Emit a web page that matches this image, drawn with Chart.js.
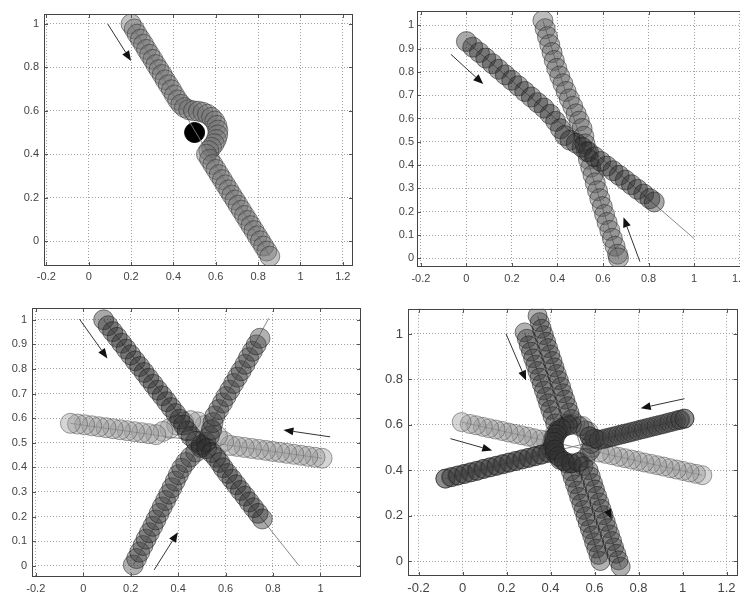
<!DOCTYPE html>
<html>
<head>
<meta charset="utf-8">
<script src="https://cdn.jsdelivr.net/npm/chart.js@4.4.1/dist/chart.umd.min.js"></script>
<style>
  html, body { margin: 0; padding: 0; background: #fff; }
  #wrap { position: relative; width: 740px; height: 596px; overflow: hidden; background: #fff; }
  canvas { position: absolute; }
</style>
</head>
<body>
<div id="wrap">
  <canvas id="c1" width="364" height="290" style="left:0;top:0"></canvas>
  <canvas id="c2" width="390" height="291" style="left:372px;top:0"></canvas>
  <canvas id="c3" width="372" height="305" style="left:0;top:296px"></canvas>
  <canvas id="c4" width="376" height="304" style="left:372px;top:296px"></canvas>
</div>
<script>
// ---------- tick values ----------
const p1XTicks = [-0.2, 0, 0.2, 0.4, 0.6, 0.8, 1, 1.2];
const p1YTicks = [0, 0.2, 0.4, 0.6, 0.8, 1];
const p2XTicks = [-0.2, 0, 0.2, 0.4, 0.6, 0.8, 1, 1.2];
const p2YTicks = [0, 0.1, 0.2, 0.3, 0.4, 0.5, 0.6, 0.7, 0.8, 0.9, 1];
const p3XTicks = [-0.2, 0, 0.2, 0.4, 0.6, 0.8, 1];
const p3YTicks = [0, 0.1, 0.2, 0.3, 0.4, 0.5, 0.6, 0.7, 0.8, 0.9, 1];
const p4XTicks = [-0.2, 0, 0.2, 0.4, 0.6, 0.8, 1, 1.2];
const p4YTicks = [0, 0.2, 0.4, 0.6, 0.8, 1];

// ---------- panel 1: one agent around a fixed obstacle ----------
const p1Agent = [
  [0.200,1.000],[0.215,0.977],[0.229,0.953],[0.244,0.930],[0.259,0.907],[0.273,0.883],[0.288,0.860],[0.303,0.837],
  [0.317,0.813],[0.332,0.790],[0.347,0.767],[0.361,0.743],[0.376,0.720],[0.391,0.697],[0.405,0.673],[0.420,0.650],
  [0.435,0.630],[0.452,0.615],[0.472,0.605],[0.495,0.600],[0.518,0.598],[0.540,0.593],[0.561,0.584],[0.580,0.570],
  [0.595,0.553],[0.605,0.533],[0.610,0.511],[0.609,0.489],[0.603,0.468],[0.593,0.449],[0.580,0.432],[0.567,0.417],
  [0.556,0.400],[0.571,0.377],[0.586,0.353],[0.601,0.330],[0.616,0.306],[0.631,0.283],[0.646,0.259],[0.661,0.236],
  [0.676,0.212],[0.691,0.189],[0.706,0.165],[0.721,0.142],[0.736,0.118],[0.751,0.095],[0.766,0.071],[0.781,0.048],
  [0.796,0.024],[0.811,0.001],[0.826,-0.023],[0.841,-0.046],[0.855,-0.070]
];
const p1Obstacle = [[0.5, 0.5]];
const p1Guides = [[[0.2, 1.0], [0.855, -0.07]]];
const p1Arrows = [[0.09, 1.0, 0.2, 0.83]];

// ---------- panel 2: two crossing agents ----------
const p2AgentA = [
  [0.000,0.930],[0.028,0.906],[0.057,0.883],[0.085,0.859],[0.114,0.835],[0.142,0.811],[0.171,0.787],[0.199,0.764],
  [0.228,0.740],[0.256,0.716],[0.285,0.692],[0.313,0.668],[0.341,0.645],[0.368,0.618],[0.392,0.588],[0.413,0.556],
  [0.432,0.527],[0.455,0.507],[0.482,0.494],[0.508,0.477],[0.536,0.457],[0.563,0.436],[0.590,0.416],[0.617,0.396],
  [0.644,0.376],[0.671,0.356],[0.698,0.336],[0.725,0.316],[0.752,0.296],[0.779,0.276],[0.806,0.256],[0.825,0.242]
];
const p2AgentB = [
  [0.336,1.020],[0.346,0.985],[0.356,0.951],[0.366,0.917],[0.376,0.883],[0.386,0.849],[0.397,0.815],[0.410,0.782],
  [0.424,0.749],[0.438,0.716],[0.452,0.684],[0.467,0.652],[0.482,0.620],[0.496,0.589],[0.508,0.557],[0.516,0.524],
  [0.521,0.491],[0.527,0.458],[0.536,0.425],[0.546,0.391],[0.556,0.358],[0.566,0.324],[0.576,0.290],[0.586,0.256],
  [0.597,0.222],[0.607,0.188],[0.618,0.154],[0.630,0.120],[0.641,0.086],[0.653,0.052],[0.664,0.018],[0.668,0.002]
];
const p2Guides = [[[0.0, 0.93], [1.0, 0.085]], [[0.336, 1.02], [0.668, 0.0]]];
const p2Arrows = [[-0.068, 0.875, 0.074, 0.748], [0.762, -0.014, 0.69, 0.176]];

// ---------- panel 3: three agents ----------
const p3AgentA = [
  [0.086,1.000],[0.105,0.976],[0.124,0.952],[0.143,0.929],[0.162,0.905],[0.181,0.881],[0.200,0.857],[0.219,0.833],
  [0.238,0.810],[0.257,0.786],[0.276,0.762],[0.295,0.738],[0.314,0.714],[0.333,0.691],[0.352,0.667],[0.371,0.643],
  [0.390,0.619],[0.407,0.596],[0.423,0.572],[0.438,0.548],[0.455,0.526],[0.475,0.506],[0.497,0.490],[0.520,0.476],
  [0.541,0.460],[0.559,0.441],[0.575,0.420],[0.590,0.398],[0.608,0.375],[0.627,0.352],[0.645,0.329],[0.663,0.306],
  [0.682,0.283],[0.700,0.259],[0.718,0.236],[0.737,0.213],[0.755,0.190]
];
const p3AgentB = [
  [0.211,0.003],[0.225,0.029],[0.238,0.055],[0.252,0.082],[0.265,0.108],[0.279,0.134],[0.293,0.160],[0.306,0.186],
  [0.320,0.213],[0.333,0.239],[0.347,0.265],[0.361,0.291],[0.374,0.317],[0.388,0.344],[0.401,0.370],[0.415,0.396],
  [0.432,0.420],[0.452,0.442],[0.474,0.462],[0.497,0.481],[0.517,0.502],[0.532,0.527],[0.541,0.554],[0.547,0.582],
  [0.555,0.609],[0.571,0.635],[0.587,0.662],[0.602,0.688],[0.618,0.714],[0.634,0.741],[0.650,0.767],[0.666,0.793],
  [0.682,0.819],[0.697,0.846],[0.713,0.872],[0.729,0.898],[0.745,0.925]
];
const p3AgentC = [
  [1.007,0.437],[0.977,0.441],[0.947,0.445],[0.918,0.449],[0.888,0.453],[0.858,0.457],[0.828,0.461],[0.798,0.465],
  [0.769,0.469],[0.739,0.473],[0.709,0.477],[0.679,0.481],[0.649,0.485],[0.620,0.489],[0.592,0.505],[0.566,0.527],
  [0.540,0.550],[0.512,0.570],[0.483,0.585],[0.453,0.590],[0.423,0.584],[0.394,0.572],[0.365,0.558],[0.336,0.546],
  [0.306,0.533],[0.276,0.537],[0.246,0.541],[0.216,0.545],[0.186,0.549],[0.156,0.553],[0.126,0.557],[0.096,0.561],
  [0.066,0.565],[0.036,0.569],[0.006,0.573],[-0.024,0.576],[-0.054,0.579]
];
const p3Guides = [[[0.086, 1.0], [0.91, 0.0]], [[0.211, 0.003], [0.782, 1.006]], [[1.007, 0.437], [-0.054, 0.579]]];
const p3Arrows = [[-0.016, 1.003, 0.102, 0.843], [0.299, -0.017, 0.399, 0.136], [1.041, 0.524, 0.844, 0.552]];

// ---------- panel 4: five agents meeting in the middle ----------
const p4AgentV1 = [
  [0.341,1.080],[0.351,1.052],[0.360,1.023],[0.370,0.995],[0.380,0.966],[0.389,0.938],[0.399,0.910],[0.409,0.881],
  [0.418,0.853],[0.428,0.824],[0.438,0.796],[0.448,0.768],[0.457,0.739],[0.467,0.711],[0.477,0.682],[0.486,0.654],
  [0.496,0.626],[0.480,0.597],[0.449,0.583],[0.427,0.558],[0.416,0.525],[0.419,0.491],[0.434,0.462],[0.460,0.440],
  [0.492,0.430],[0.526,0.435],[0.550,0.418],[0.573,0.400],[0.583,0.372],[0.593,0.343],[0.602,0.315],[0.612,0.287],
  [0.622,0.258],[0.631,0.230],[0.641,0.202],[0.651,0.173],[0.660,0.145],[0.670,0.117],[0.680,0.088],[0.689,0.060],
  [0.699,0.032],[0.709,0.003],[0.719,-0.025]
];
const p4AgentV2 = [
  [0.282,1.007],[0.292,0.979],[0.301,0.950],[0.311,0.922],[0.321,0.893],[0.331,0.865],[0.340,0.837],[0.350,0.808],
  [0.360,0.780],[0.370,0.751],[0.380,0.723],[0.389,0.695],[0.399,0.666],[0.409,0.638],[0.421,0.607],[0.433,0.575],
  [0.415,0.544],[0.410,0.509],[0.420,0.474],[0.442,0.446],[0.474,0.429],[0.492,0.395],[0.501,0.367],[0.511,0.338],
  [0.521,0.310],[0.530,0.282],[0.540,0.253],[0.550,0.225],[0.559,0.197],[0.569,0.168],[0.579,0.140],[0.589,0.112],
  [0.598,0.083],[0.608,0.055],[0.618,0.027],[0.627,0.000]
];
const p4AgentH1 = [
  [-0.078,0.363],[-0.049,0.370],[-0.020,0.377],[0.010,0.384],[0.039,0.391],[0.068,0.398],[0.097,0.406],[0.127,0.413],
  [0.156,0.420],[0.185,0.427],[0.214,0.434],[0.243,0.441],[0.273,0.448],[0.302,0.455],[0.331,0.462],[0.360,0.469],
  [0.390,0.478],[0.420,0.486],[0.439,0.457],[0.465,0.438],[0.499,0.430],[0.532,0.437],[0.560,0.455],[0.578,0.483],
  [0.585,0.516],[0.577,0.550],[0.599,0.540],[0.620,0.533],[0.649,0.540],[0.678,0.547],[0.707,0.554],[0.736,0.561],
  [0.766,0.568],[0.795,0.575],[0.824,0.582],[0.853,0.589],[0.882,0.596],[0.912,0.603],[0.941,0.611],[0.970,0.618],
  [0.990,0.623],[1.009,0.627]
];
const p4AgentH2 = [
  [1.009,0.627],[0.985,0.621],[0.956,0.614],[0.927,0.607],[0.897,0.600],[0.868,0.593],[0.839,0.586],[0.810,0.579],
  [0.780,0.571],[0.751,0.564],[0.722,0.557],[0.693,0.550],[0.664,0.543],[0.635,0.536],[0.606,0.538],[0.578,0.548],
  [0.559,0.576],[0.531,0.594],[0.497,0.600],[0.464,0.592],[0.437,0.572],[0.420,0.542],[0.415,0.509],[0.400,0.491],
  [0.385,0.475],[0.355,0.468],[0.326,0.461],[0.297,0.454],[0.268,0.447],[0.239,0.440],[0.209,0.433],[0.180,0.426],
  [0.151,0.419],[0.122,0.412],[0.093,0.405],[0.063,0.397],[0.034,0.390],[0.005,0.383],[-0.024,0.376],[-0.053,0.369],
  [-0.078,0.363]
];
const p4AgentL = [
  [1.090,0.378],[1.061,0.384],[1.032,0.390],[1.002,0.397],[0.973,0.403],[0.944,0.409],[0.914,0.416],[0.885,0.422],
  [0.856,0.428],[0.826,0.434],[0.797,0.441],[0.768,0.447],[0.738,0.453],[0.709,0.459],[0.680,0.466],[0.650,0.472],
  [0.621,0.478],[0.589,0.499],[0.588,0.536],[0.573,0.570],[0.546,0.595],[0.512,0.607],[0.476,0.605],[0.443,0.589],
  [0.419,0.561],[0.407,0.526],[0.380,0.530],[0.356,0.535],[0.326,0.541],[0.297,0.548],[0.268,0.554],[0.238,0.560],
  [0.209,0.566],[0.180,0.573],[0.150,0.579],[0.121,0.585],[0.092,0.591],[0.062,0.598],[0.033,0.604],[-0.004,0.612]
];
const p4Guides = [[[0.341, 1.08], [0.719, -0.025]], [[0.282, 1.007], [0.627, 0.0]],
                  [[-0.078, 0.363], [1.009, 0.627]], [[1.09, 0.378], [-0.004, 0.612]]];
const p4Arrows = [[0.198, 1.0, 0.289, 0.795], [-0.055, 0.539, 0.135, 0.487],
                  [1.009, 0.715, 0.81, 0.673], [0.655, 0.235, 0.678, 0.184]];

// ---------- drawing helpers ----------
const toXY = pts => pts.map(([x, y]) => ({ x, y }));

function circles(pts, fill, edge, r) {
  return { data: toXY(pts), showLine: false, pointRadius: r, pointHoverRadius: r,
           backgroundColor: fill, borderColor: edge, pointBorderWidth: 1, order: 1 };
}
function guide(seg) {
  return { data: toXY(seg), showLine: true, pointRadius: 0, borderColor: 'rgba(125,125,125,0.9)',
           borderWidth: 1, fill: false, order: 2 };
}
function obstacle(pts, r) {
  return { data: toXY(pts), showLine: false, pointRadius: r, backgroundColor: '#000',
           borderColor: '#000', pointBorderWidth: 1, order: 3 };
}

function drawArrow(ctx, x0, y0, x1, y1) {
  const a = Math.atan2(y1 - y0, x1 - x0), L = 10, W = 4;
  const bx = x1 - L * Math.cos(a), by = y1 - L * Math.sin(a);
  ctx.beginPath(); ctx.moveTo(x0, y0); ctx.lineTo(bx, by); ctx.stroke();
  ctx.beginPath();
  ctx.moveTo(x1, y1);
  ctx.lineTo(bx + W * Math.sin(a), by - W * Math.cos(a));
  ctx.lineTo(bx - W * Math.sin(a), by + W * Math.cos(a));
  ctx.closePath(); ctx.fill();
}

// box frame, inward tick marks and direction arrows
const framePlugin = {
  id: 'frame',
  afterDatasetsDraw(chart, args, opts) {
    const { ctx, chartArea: a, scales: { x, y } } = chart;
    ctx.save();
    ctx.strokeStyle = '#333'; ctx.fillStyle = '#111'; ctx.lineWidth = 1;
    (opts.arrows || []).forEach(([x0, y0, x1, y1]) =>
      drawArrow(ctx, x.getPixelForValue(x0), y.getPixelForValue(y0), x.getPixelForValue(x1), y.getPixelForValue(y1)));
    ctx.strokeStyle = '#555';
    ctx.beginPath();
    x.ticks.forEach(t => {
      const px = Math.round(x.getPixelForValue(t.value)) + 0.5;
      ctx.moveTo(px, a.bottom); ctx.lineTo(px, a.bottom - 4);
      ctx.moveTo(px, a.top); ctx.lineTo(px, a.top + 4);
    });
    y.ticks.forEach(t => {
      const py = Math.round(y.getPixelForValue(t.value)) + 0.5;
      ctx.moveTo(a.left, py); ctx.lineTo(a.left + 4, py);
      ctx.moveTo(a.right, py); ctx.lineTo(a.right - 4, py);
    });
    ctx.stroke();
    ctx.strokeStyle = '#444';
    ctx.strokeRect(Math.round(a.left) + 0.5, Math.round(a.top) + 0.5,
                   Math.round(a.right - a.left) - 1, Math.round(a.bottom - a.top) - 1);
    ctx.restore();
  }
};

function panel(id, cfg) {
  const font = { family: '"Liberation Sans", Arial, sans-serif', size: cfg.fontSize };
  const axis = (ticks, range, fitKey, fitVal, pad) => ({
    type: 'linear', min: range[0], max: range[1],
    afterBuildTicks: s => { s.ticks = ticks.map(v => ({ value: v })); },
    afterFit: s => { s[fitKey] = fitVal; },
    ticks: { font, color: '#444', padding: pad, autoSkip: false, maxRotation: 0, callback: v => String(v) },
    grid: { color: 'rgba(150,150,150,0.9)', lineWidth: 1, drawTicks: false },
    border: { display: false, dash: [1, 2] }
  });
  new Chart(document.getElementById(id), {
    type: 'scatter',
    data: { datasets: cfg.datasets },
    options: {
      responsive: false, animation: false, devicePixelRatio: 1,
      layout: { padding: cfg.pad },
      events: [],
      plugins: { legend: { display: false }, tooltip: { enabled: false }, frame: { arrows: cfg.arrows } },
      scales: {
        x: axis(cfg.xTicks, cfg.xRange, 'height', cfg.xH, cfg.xPad),
        y: axis(cfg.yTicks, cfg.yRange, 'width', cfg.yW, cfg.yPad)
      }
    },
    plugins: [framePlugin]
  });
}

// ---------- the four panels ----------
panel('c1', {
  xTicks: p1XTicks, yTicks: p1YTicks, xRange: [-0.211, 1.248], yRange: [-0.115, 1.046],
  pad: { left: 0, top: 14, right: 2, bottom: 0 }, yW: 44, xH: 24, xPad: 4, yPad: 5, fontSize: 11,
  arrows: p1Arrows,
  datasets: [
    circles(p1Agent, 'rgba(110,110,110,0.42)', 'rgba(50,50,50,0.55)', 10),
    ...p1Guides.map(guide),
    obstacle(p1Obstacle, 10)
  ]
});

panel('c2', {
  xTicks: p2XTicks, yTicks: p2YTicks, xRange: [-0.217, 1.25], yRange: [-0.037, 1.061],
  pad: { left: 0, top: 8, right: 0, bottom: 0 }, yW: 45, xH: 24, xPad: 5, yPad: 3, fontSize: 11,
  arrows: p2Arrows,
  datasets: [
    circles(p2AgentA, 'rgba(40,40,40,0.4)', 'rgba(30,30,30,0.55)', 10),
    circles(p2AgentB, 'rgba(90,90,90,0.4)', 'rgba(40,40,40,0.55)', 10),
    ...p2Guides.map(guide)
  ]
});

panel('c3', {
  xTicks: p3XTicks, yTicks: p3YTicks, xRange: [-0.216, 1.171], yRange: [-0.046, 1.048],
  pad: { left: 0, top: 12, right: 0, bottom: 0 }, yW: 32, xH: 24, xPad: 5, yPad: 5, fontSize: 11,
  arrows: p3Arrows,
  datasets: [
    circles(p3AgentA, 'rgba(40,40,40,0.4)', 'rgba(30,30,30,0.55)', 10),
    circles(p3AgentB, 'rgba(60,60,60,0.4)', 'rgba(35,35,35,0.55)', 10),
    circles(p3AgentC, 'rgba(150,150,150,0.4)', 'rgba(80,80,80,0.55)', 10),
    ...p3Guides.map(guide)
  ]
});

panel('c4', {
  xTicks: p4XTicks, yTicks: p4YTicks, xRange: [-0.248, 1.25], yRange: [-0.066, 1.111],
  pad: { left: 0, top: 12, right: 0, bottom: 0 }, yW: 36, xH: 24, xPad: 5, yPad: 5, fontSize: 13,
  arrows: p4Arrows,
  datasets: [
    circles(p4AgentV1, 'rgba(50,50,50,0.38)', 'rgba(30,30,30,0.55)', 9.5),
    circles(p4AgentV2, 'rgba(50,50,50,0.38)', 'rgba(30,30,30,0.55)', 9.5),
    circles(p4AgentH1, 'rgba(60,60,60,0.35)', 'rgba(30,30,30,0.5)', 9.5),
    circles(p4AgentH2, 'rgba(60,60,60,0.35)', 'rgba(30,30,30,0.5)', 9.5),
    circles(p4AgentL, 'rgba(150,150,150,0.4)', 'rgba(80,80,80,0.55)', 9.5),
    ...p4Guides.map(guide)
  ]
});
</script>
</body>
</html>
